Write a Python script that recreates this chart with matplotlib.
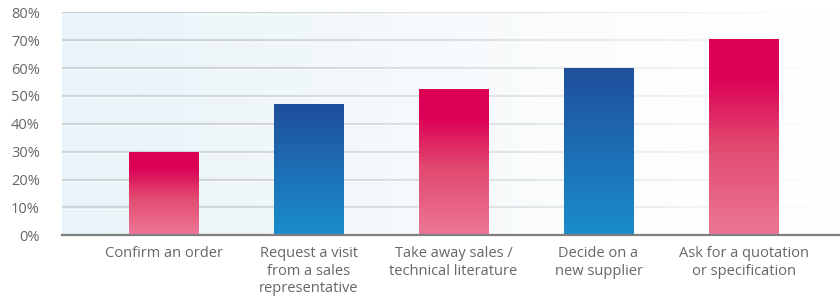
import numpy as np
import matplotlib
matplotlib.use("Agg")
import matplotlib.pyplot as plt
from matplotlib.colors import LinearSegmentedColormap

categories = [
    "Confirm an order",
    "Request a visit\nfrom a sales\nrepresentative",
    "Take away sales /\ntechnical literature",
    "Decide on a\nnew supplier",
    "Ask for a quotation\nor specification",
]
values = [30, 47, 52.5, 60, 70.5]
bar_styles = ["pink", "blue", "pink", "blue", "pink"]
yticks = [0, 10, 20, 30, 40, 50, 60, 70, 80]
ytick_labels = [f"{t}%" for t in yticks]

plt.rcParams['font.family'] = ['Open Sans', 'DejaVu Sans']

fig = plt.figure(figsize=(8.4, 3.01), dpi=100)
ax = fig.add_axes([62/840, 1 - 235.3/301, 778/840, (235.3 - 12.3)/301])

x = np.arange(len(categories))
ax.set_xlim(-0.70, 4.665)
ax.set_ylim(0, 80)

# background gradient
bg = LinearSegmentedColormap.from_list("bg", ["#e8f4f9", "#f3f8fb", "#ffffff"])
grad = np.linspace(0, 1, 256).reshape(1, -1)
ax.imshow(grad, cmap=bg, aspect='auto', extent=[-0.70, 4.665, 0, 80], zorder=0)

# gridlines
for t in yticks[1:]:
    ax.axhline(t, color="#cdd3d6", lw=1.6, zorder=1)
    ax.axhline(t - 0.5, color="#f7fafb", lw=0.8, zorder=1)

# white fade overlay
fade = np.zeros((1, 256, 4))
fade[..., :3] = 1.0
fade[..., 3] = np.clip(np.linspace(0, 1, 256) ** 1.6, 0, 1)
ax.imshow(fade, aspect='auto', extent=[-0.70, 4.665, 0, 80], zorder=1.5)

pink_cmap = LinearSegmentedColormap.from_list(
    "pink", [(0, "#ec7797"), (0.45, "#e24a70"), (0.8, "#dc0056"), (1, "#dc0054")])
blue_cmap = LinearSegmentedColormap.from_list(
    "blue", [(0, "#1a8dcc"), (1, "#1f4f9b")])

bars = ax.bar(x, values, width=0.476, color="none", zorder=3)
for b, style in zip(bars, bar_styles):
    cmap = pink_cmap if style == "pink" else blue_cmap
    vg = np.linspace(0, 1, 256).reshape(-1, 1)
    im = ax.imshow(vg, cmap=cmap, origin='lower', aspect='auto',
                   extent=[b.get_x(), b.get_x() + b.get_width(), 0, b.get_height()],
                   zorder=3)
    im.set_clip_path(b)

ax.set_xlim(-0.70, 4.665)
ax.set_ylim(0, 80)

for s in ["top", "right", "left"]:
    ax.spines[s].set_visible(False)
ax.spines["bottom"].set_color("#7f7f7f")
ax.spines["bottom"].set_linewidth(1.6)
ax.spines["bottom"].set_zorder(4)

ax.set_yticks(yticks)
ax.set_yticklabels(ytick_labels)
ax.set_xticks(x)
ax.set_xticklabels(categories, linespacing=1.22)
ax.tick_params(axis='y', length=0, pad=16, labelsize=10.5, labelcolor="#666666")
ax.tick_params(axis='x', length=0, pad=8, labelsize=10.5, labelcolor="#666666")
for lbl in ax.get_yticklabels():
    lbl.set_verticalalignment('center_baseline')

fig.savefig("out.png", dpi=100)
